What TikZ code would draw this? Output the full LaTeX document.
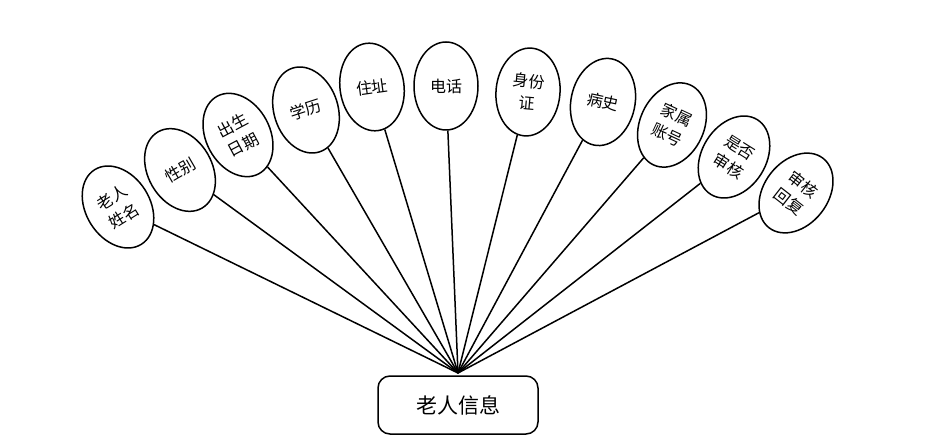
\documentclass[tikz,border=0pt]{standalone}
\usepackage{fontspec}
\newfontfamily\cjk{Noto Sans CJK SC}
\usetikzlibrary{shapes.geometric}
\begin{document}
\begin{tikzpicture}[x=1pt,y=-1pt,
  attr/.style={ellipse,draw=black,line width=1.5pt,minimum width=64pt,minimum height=88pt,inner sep=0pt,align=center,font=\cjk\fontsize{16}{22}\selectfont},
  ent/.style={draw=black,line width=1.5pt,rounded corners=12pt,minimum width=160pt,minimum height=58pt,font=\cjk\fontsize{21}{24}\selectfont},
  link/.style={line width=1.5pt}]
\useasboundingbox (0,0) rectangle (934,446);
\node[ent] (box) at (458,405) {老人信息};
\coordinate (hub) at (458,373);
\node[attr,rotate=32] (e1) at (118,207) {老人\\姓名};
\node[attr,rotate=30] (e2) at (180,170) {性别};
\node[attr,rotate=28] (e3) at (238,135) {出生\\日期};
\node[attr,rotate=18] (e4) at (306,110) {学历};
\node[attr,rotate=8] (e5) at (372,87) {住址};
\node[attr,rotate=0] (e6) at (446,86) {电话};
\node[attr,rotate=-5] (e7) at (528,92) {身份\\证};
\node[attr,rotate=-12] (e8) at (603,102) {病史};
\node[attr,rotate=-25] (e9) at (672,125) {家属\\账号};
\node[attr,rotate=-32] (e10) at (734,157) {是否\\审核};
\node[attr,rotate=-38] (e11) at (796,193) {审核\\回复};
\foreach \i in {1,...,11} \draw[link] (hub) -- (e\i);
\end{tikzpicture}
\end{document}
